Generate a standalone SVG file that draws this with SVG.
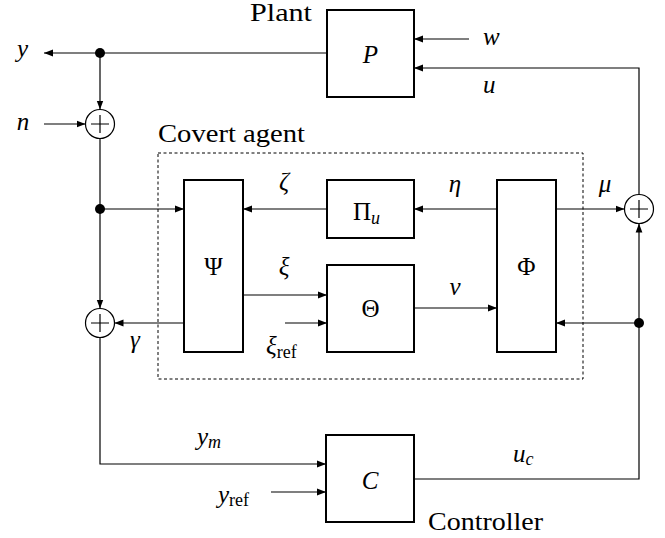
<svg xmlns="http://www.w3.org/2000/svg" width="665" height="538" viewBox="0 0 665 538">
<defs>
<marker id="ah" markerWidth="10" markerHeight="8" refX="9" refY="4" orient="auto" markerUnits="userSpaceOnUse"><path d="M0,0.6 L9,4 L0,7.4 Z" fill="#000"/></marker>
</defs>
<style>
.box{fill:#fff;stroke:#000;stroke-width:2}
.sum{fill:#fff;stroke:#000;stroke-width:1.2}
.ln{fill:none;stroke:#000;stroke-width:1.2}
.arr{fill:none;stroke:#000;stroke-width:1.2;marker-end:url(#ah)}
.dot{fill:#000}
text{font-family:'Liberation Serif','Times New Roman','DejaVu Serif',serif;font-size:25px;fill:#000}
.m{font-style:italic}
.sub{font-size:18px;font-style:normal}
.msub{font-size:18px;font-style:italic}
.dash{fill:none;stroke:#000;stroke-width:1;stroke-dasharray:3,2.5}
</style>
<rect width="665" height="538" fill="#fff"/>
<g id="covert-agent">
<rect class="dash" x="158" y="153" width="425" height="226"/>
<text x="158" y="142" textLength="147" lengthAdjust="spacingAndGlyphs">Covert agent</text>
</g>
<g id="connectors">
<path class="arr" d="M327,53 H44"/>
<path class="arr" d="M100,53 V109.5"/>
<path class="arr" d="M44,124 H85.5"/>
<path class="arr" d="M100,138.5 V308.5"/>
<path class="arr" d="M100,209 H184"/>
<path class="arr" d="M327,209 H243"/>
<path class="arr" d="M497,209 H414"/>
<path class="arr" d="M556,209 H624.5"/>
<path class="arr" d="M639,194.5 V68 H414"/>
<path class="arr" d="M469,39 H414"/>
<path class="arr" d="M243,295 H327"/>
<path class="arr" d="M285,323 H327"/>
<path class="arr" d="M414,308 H497"/>
<path class="arr" d="M639,323 H556"/>
<path class="arr" d="M414,479 H639 V223.5"/>
<path class="arr" d="M184,323 H114.5"/>
<path class="arr" d="M100,337.5 V464 H326"/>
<path class="arr" d="M271,492 H326"/>
<circle class="dot" cx="100" cy="53" r="5"/>
<circle class="dot" cx="100" cy="209" r="5"/>
<circle class="dot" cx="639" cy="323" r="5"/>
</g>
<g id="plant">
<rect class="box" x="327" y="10" width="87" height="87"/>
<text class="m" x="370.5" y="63" text-anchor="middle">P</text>
<text x="312" y="21" text-anchor="end" textLength="62" lengthAdjust="spacingAndGlyphs">Plant</text>
</g>
<g id="controller">
<rect class="box" x="326" y="435" width="88" height="87"/>
<text class="m" x="370" y="489" text-anchor="middle">C</text>
<text x="428" y="530" textLength="115" lengthAdjust="spacingAndGlyphs">Controller</text>
</g>
<g id="psi">
<rect class="box" x="184" y="180" width="59" height="172"/>
<text x="213.5" y="275" text-anchor="middle">Ψ</text>
</g>
<g id="pi-u">
<rect class="box" x="327" y="180" width="87" height="58"/>
<text x="353" y="220">Π<tspan class="msub" dy="4">u</tspan></text>
</g>
<g id="theta">
<rect class="box" x="327" y="265" width="87" height="87"/>
<text x="370.5" y="317" text-anchor="middle">Θ</text>
</g>
<g id="phi">
<rect class="box" x="497" y="180" width="59" height="172"/>
<text x="526.5" y="275" text-anchor="middle">Φ</text>
</g>
<g id="sum1">
<circle class="sum" cx="100" cy="124" r="14.5"/>
<path class="ln" d="M91,124 H109 M100,115 V133"/>
</g>
<g id="sum2">
<circle class="sum" cx="639" cy="209" r="14.5"/>
<path class="ln" d="M630,209 H648 M639,200 V218"/>
</g>
<g id="sum3">
<circle class="sum" cx="100" cy="323" r="14.5"/>
<path class="ln" d="M91,323 H109 M100,314 V332"/>
</g>
<g id="labels">
<text class="m" x="22.5" y="57" text-anchor="middle">y</text>
<text class="m" x="23" y="130" text-anchor="middle">n</text>
<text class="m" x="483" y="45">w</text>
<text class="m" x="483" y="93">u</text>
<text class="m" x="455" y="192" text-anchor="middle">η</text>
<text class="m" x="605" y="192" text-anchor="middle">μ</text>
<text class="m" x="284" y="190" text-anchor="middle">ζ</text>
<text class="m" x="284" y="275" text-anchor="middle">ξ</text>
<text class="m" x="455" y="295" text-anchor="middle">ν</text>
<text class="m" x="135" y="348" text-anchor="middle">γ</text>
<text class="m" x="266" y="354">ξ<tspan class="sub" dy="4">ref</tspan></text>
<text class="m" x="197" y="445">y<tspan class="msub" dy="3">m</tspan></text>
<text class="m" x="218" y="503">y<tspan class="sub" dy="3">ref</tspan></text>
<text class="m" x="513" y="462">u<tspan class="msub" dy="3">c</tspan></text>
</g>
</svg>
